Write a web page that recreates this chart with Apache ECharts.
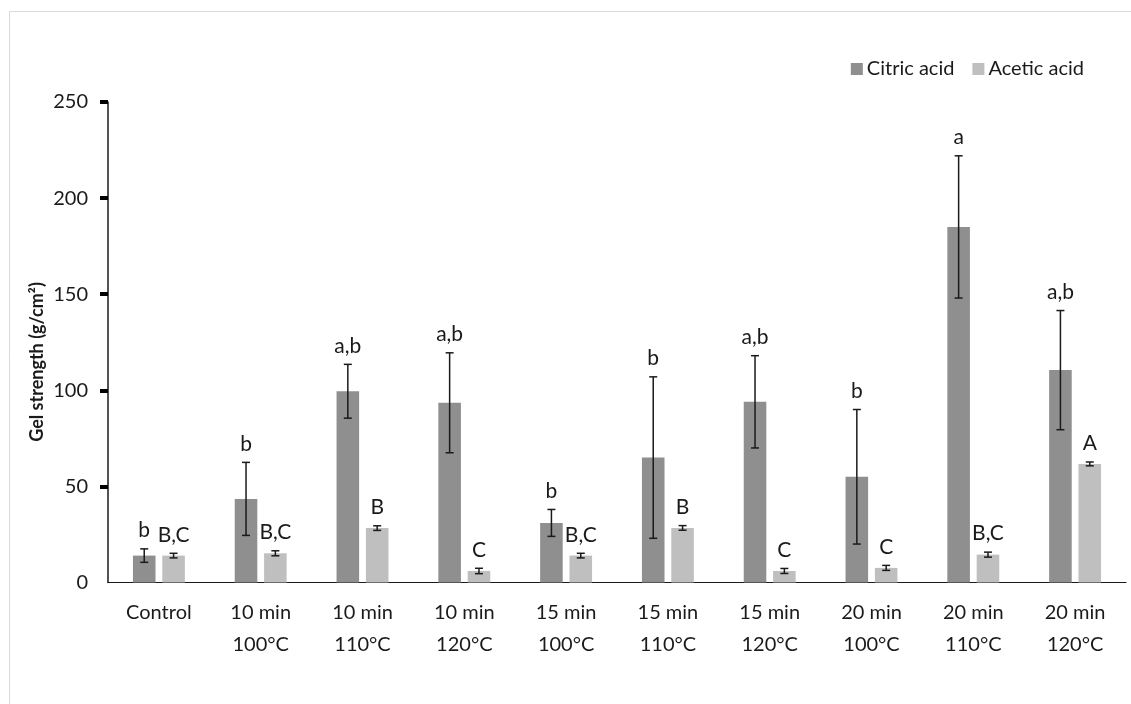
<!DOCTYPE html>
<html>
<head>
<meta charset="utf-8">
<script src="https://cdn.jsdelivr.net/npm/echarts@6/dist/echarts.min.js"></script>
<style>html,body{margin:0;padding:0;background:#fff}#c{width:1131px;height:704px}</style>
</head>
<body>
<div id="c"></div>
<script>
const categories = ['Control', '10 min\n100°C', '10 min\n110°C', '10 min\n120°C', '15 min\n100°C',
  '15 min\n110°C', '15 min\n120°C', '20 min\n100°C', '20 min\n110°C', '20 min\n120°C'];
const citricMean = [14, 43.5, 99.5, 93.5, 31, 65, 94, 55, 185, 110.5];
const citricErr  = [3.5, 19, 14, 26, 7, 42, 24, 35, 37, 31];
const citricLetters = ['b', 'b', 'a,b', 'a,b', 'b', 'b', 'a,b', 'b', 'a', 'a,b'];
const aceticMean = [14, 15.2, 28.3, 6, 14, 28.4, 6, 7.6, 14.5, 61.7];
const aceticErr  = [1.2, 1.3, 1.2, 1.4, 1.2, 1.2, 1.3, 1.3, 1.3, 1];
const aceticLetters = ['B,C', 'B,C', 'B', 'C', 'B,C', 'B', 'C', 'C', 'B,C', 'A'];
const yTicks = [0, 50, 100, 150, 200, 250];
const yTitle = 'Gel strength (g/cm²)';

const FONT = 'Lato';
const CAT_GAP = 0.49, BAR_GAP = 0.30;

function errRenderer(side, letters) {
  return function (params, api) {
    const i = api.value(0), v = api.value(1), e = api.value(2);
    const W = api.size([1, 0])[0];
    const b = W * (1 - CAT_GAP) / (2 + BAR_GAP);
    const off = side * (b / 2 + b * BAR_GAP / 2);
    const x = api.coord([i, 0])[0] + off;
    const yT = api.coord([i, v + e])[1];
    const yB = api.coord([i, v - e])[1];
    const cap = 4;
    const ls = { stroke: '#1a1a1a', lineWidth: 1.5 };
    return {
      type: 'group',
      children: [
        { type: 'line', shape: { x1: x, y1: yT, x2: x, y2: yB }, style: ls },
        { type: 'line', shape: { x1: x - cap, y1: yT, x2: x + cap, y2: yT }, style: ls },
        { type: 'line', shape: { x1: x - cap, y1: yB, x2: x + cap, y2: yB }, style: ls },
        { type: 'text', x: x, y: yT - 8, style: { text: letters[params.dataIndex], fill: '#1a1a1a',
          font: '21px ' + FONT, align: 'center', verticalAlign: 'bottom' } }
      ]
    };
  };
}

const chart = echarts.init(document.getElementById('c'));
chart.setOption({
  animation: false,
  backgroundColor: '#fff',
  textStyle: { fontFamily: FONT },
  graphic: [
    { type: 'rect', shape: { x: 9.5, y: 11.5, width: 1300, height: 900 },
      style: { fill: 'none', stroke: '#d9d9d9', lineWidth: 1 }, silent: true },
    { type: 'text', x: 37, y: 362, rotation: Math.PI / 2, silent: true,
      style: { text: yTitle, fill: '#1a1a1a', font: 'bold 18px ' + FONT, align: 'center', verticalAlign: 'middle' } }
  ],
  legend: {
    top: 54, right: 42, itemWidth: 12, itemHeight: 12, itemGap: 18, icon: 'rect',
    textStyle: { fontSize: 20, color: '#1a1a1a', fontFamily: FONT, padding: [0, 0, 0, -1] },
    data: ['Citric acid', 'Acetic acid']
  },
  grid: { left: 108, right: 5, top: 102, bottom: 121.5, containLabel: false },
  xAxis: {
    type: 'category', data: categories,
    axisLine: { lineStyle: { color: '#1a1a1a', width: 1.2 } },
    axisTick: { show: false },
    axisLabel: { fontSize: 20, color: '#1a1a1a', lineHeight: 32, margin: 14, interval: 0, fontFamily: FONT }
  },
  yAxis: {
    type: 'value', min: 0, max: 250, interval: 50,
    axisLine: { show: true, lineStyle: { color: '#1a1a1a', width: 1.5 } },
    axisTick: { show: true, inside: false, length: 8, lineStyle: { color: '#000', width: 4 },
      customValues: yTicks.slice(1) },
    axisLabel: { fontSize: 20, color: '#1a1a1a', margin: 20, fontFamily: FONT, customValues: yTicks },
    splitLine: { show: false }
  },
  series: [
    { name: 'Citric acid', type: 'bar', data: citricMean, barCategoryGap: (CAT_GAP * 100) + '%',
      barGap: (BAR_GAP * 100) + '%', itemStyle: { color: '#8f8f8f' } },
    { name: 'Acetic acid', type: 'bar', data: aceticMean, barCategoryGap: (CAT_GAP * 100) + '%',
      barGap: (BAR_GAP * 100) + '%', itemStyle: { color: '#bfbfbf' } },
    { type: 'custom', renderItem: errRenderer(-1, citricLetters), z: 5, silent: true,
      data: citricMean.map((v, i) => [i, v, citricErr[i]]) },
    { type: 'custom', renderItem: errRenderer(1, aceticLetters), z: 5, silent: true,
      data: aceticMean.map((v, i) => [i, v, aceticErr[i]]) }
  ]
});
</script>
</body>
</html>
